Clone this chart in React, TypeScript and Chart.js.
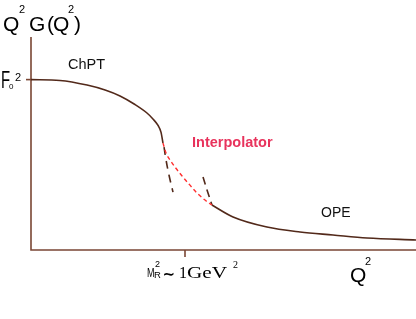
import React, { useEffect, useRef } from "react";
import { Chart, registerables } from "chart.js";

Chart.register(...registerables);

// Schematic values (x in GeV^2, y in units of F0^2)
const chptX = [0, 0.188, 0.364, 0.481, 0.578, 0.675, 0.753, 0.792, 0.825, 0.844, 0.857];
const chptY = [1.0, 0.995, 0.968, 0.939, 0.904, 0.854, 0.804, 0.769, 0.731, 0.692, 0.628];

const interpX = [0.857, 0.877, 0.903, 0.935, 0.981, 1.026, 1.078, 1.13, 1.175];
const interpY = [0.628, 0.569, 0.528, 0.487, 0.434, 0.387, 0.334, 0.293, 0.264];

const opeX = [1.175, 1.312, 1.532, 1.747, 1.961, 2.182, 2.5];
const opeY = [0.264, 0.194, 0.135, 0.106, 0.088, 0.07, 0.059];

const chptExtX = [0.864, 0.877, 0.896, 0.922];
const chptExtY = [0.604, 0.528, 0.44, 0.34];

const opeExtX = [1.117, 1.143, 1.175];
const opeExtY = [0.428, 0.352, 0.264];

const X_MAX = 2.5;
const Y_MAX = 1.25;
const TICK_X = 1; // M_R^2 ~ 1 GeV^2
const F0_LEVEL = 1;

const LABEL_CHPT = "ChPT";
const LABEL_INTERP = "Interpolator";
const LABEL_OPE = "OPE";

const CURVE = "#52291a";
const AXIS = "#7a4634";
const RED = "#ff3030";

const zip = (xs: number[], ys: number[]) => xs.map((x, i) => ({ x, y: ys[i] }));

export default function App() {
  const ref = useRef<HTMLCanvasElement | null>(null);

  useEffect(() => {
    if (!ref.current) return;

    const txt = (
      ctx: CanvasRenderingContext2D,
      s: string,
      x: number,
      y: number,
      font: string,
      color: string,
      sx = 1
    ) => {
      ctx.save();
      ctx.font = font;
      ctx.fillStyle = color;
      ctx.textBaseline = "alphabetic";
      ctx.textAlign = "left";
      ctx.translate(x, y);
      ctx.scale(sx, 1);
      ctx.fillText(s, 0, 0);
      ctx.restore();
    };

    const decor = {
      id: "decor",
      beforeDatasetsDraw(chart: any) {
        const ctx = chart.ctx as CanvasRenderingContext2D;
        const xs = chart.scales.x;
        const ys = chart.scales.y;
        const x0 = xs.getPixelForValue(0);
        const x1 = xs.getPixelForValue(X_MAX);
        const y0 = ys.getPixelForValue(0);
        const yTop = ys.getPixelForValue(Y_MAX);
        ctx.save();
        ctx.strokeStyle = AXIS;
        ctx.lineWidth = 1.6;
        ctx.beginPath();
        ctx.moveTo(x0, yTop);
        ctx.lineTo(x0, y0);
        ctx.lineTo(x1, y0);
        ctx.stroke();
        const tx = xs.getPixelForValue(TICK_X);
        ctx.beginPath();
        ctx.moveTo(tx, y0);
        ctx.lineTo(tx, y0 + 7);
        ctx.stroke();
        const fy = ys.getPixelForValue(F0_LEVEL);
        ctx.beginPath();
        ctx.moveTo(x0 - 5, fy);
        ctx.lineTo(x0, fy);
        ctx.stroke();
        ctx.restore();
      },
      afterDraw(chart: any) {
        const ctx = chart.ctx as CanvasRenderingContext2D;
        const sans = "Liberation Sans, Arial, sans-serif";
        const serif = "Liberation Serif, Times New Roman, serif";
        const black = "#000";
        // Title Q^2 G(Q^2)
        txt(ctx, "Q", 3, 31, `21px ${sans}`, black);
        txt(ctx, "2", 19, 13, `11px ${sans}`, black);
        txt(ctx, "G", 29, 31, `21px ${sans}`, black);
        txt(ctx, "(", 47, 31, `21px ${sans}`, black);
        txt(ctx, "Q", 53, 31, `21px ${sans}`, black);
        txt(ctx, "2", 68, 13, `11px ${sans}`, black);
        txt(ctx, ")", 74, 31, `21px ${sans}`, black);
        // F0^2
        txt(ctx, "F", 1, 88, `24px ${sans}`, black, 0.62);
        txt(ctx, "0", 9, 89, `8px ${sans}`, black);
        txt(ctx, "2", 15, 81, `11px ${sans}`, black);
        // region labels
        txt(ctx, LABEL_CHPT, 68, 69, `14.5px ${sans}`, "#111");
        txt(ctx, LABEL_INTERP, 192, 147, `bold 14.5px ${sans}`, "#e8335c");
        txt(ctx, LABEL_OPE, 321, 217, `14px ${sans}`, "#111");
        // M_R^2 ~ 1 GeV^2
        txt(ctx, "M", 147, 277, `12.5px ${sans}`, black, 0.72);
        txt(ctx, "2", 155, 267, `9px ${sans}`, black);
        txt(ctx, "R", 154, 278, `9.5px ${sans}`, black);
        txt(ctx, "\u223C", 162.5, 279, `bold 15px DejaVu Sans, sans-serif`, black);
        txt(ctx, "1", 179, 278, `16px ${serif}`, black);
        txt(ctx, "GeV", 187, 278, `17px ${serif}`, black, 1.25);
        txt(ctx, "2", 233, 268, `10px ${serif}`, black);
        // Q^2 axis label
        txt(ctx, "Q", 350, 282, `21px ${sans}`, black);
        txt(ctx, "2", 365, 265, `11px ${sans}`, black);
      },
    };

    const chart = new Chart(ref.current, {
      type: "line",
      data: {
        datasets: [
          {
            label: LABEL_CHPT,
            data: zip(chptX, chptY),
            borderColor: CURVE,
            borderWidth: 1.6,
            pointRadius: 0,
            cubicInterpolationMode: "monotone",
          },
          {
            label: LABEL_INTERP,
            data: zip(interpX, interpY),
            borderColor: RED,
            borderWidth: 1.4,
            borderDash: [4, 3],
            pointRadius: 0,
            cubicInterpolationMode: "monotone",
          },
          {
            label: LABEL_OPE,
            data: zip(opeX, opeY),
            borderColor: CURVE,
            borderWidth: 1.6,
            pointRadius: 0,
            cubicInterpolationMode: "monotone",
          },
          {
            label: "ChPT ext",
            data: zip(chptExtX, chptExtY),
            borderColor: CURVE,
            borderWidth: 1.6,
            borderDash: [8, 6],
            pointRadius: 0,
            tension: 0.4,
          },
          {
            label: "OPE ext",
            data: zip(opeExtX, opeExtY),
            borderColor: CURVE,
            borderWidth: 1.6,
            borderDash: [8, 5],
            pointRadius: 0,
            tension: 0.4,
          },
        ],
      },
      options: {
        animation: false,
        responsive: false,
        devicePixelRatio: 1,
        layout: { padding: { left: 31, right: 0, top: 37, bottom: 69 } },
        plugins: { legend: { display: false }, tooltip: { enabled: false }, title: { display: false } },
        scales: {
          x: { type: "linear", min: 0, max: X_MAX, display: false },
          y: { type: "linear", min: 0, max: Y_MAX, display: false },
        },
      },
      plugins: [decor],
    } as any);

    return () => chart.destroy();
  }, []);

  return (
    <div style={{ position: "fixed", left: 0, top: 0, width: 416, height: 319, background: "#fff" }}>
      <canvas ref={ref} width={416} height={319} />
    </div>
  );
}
